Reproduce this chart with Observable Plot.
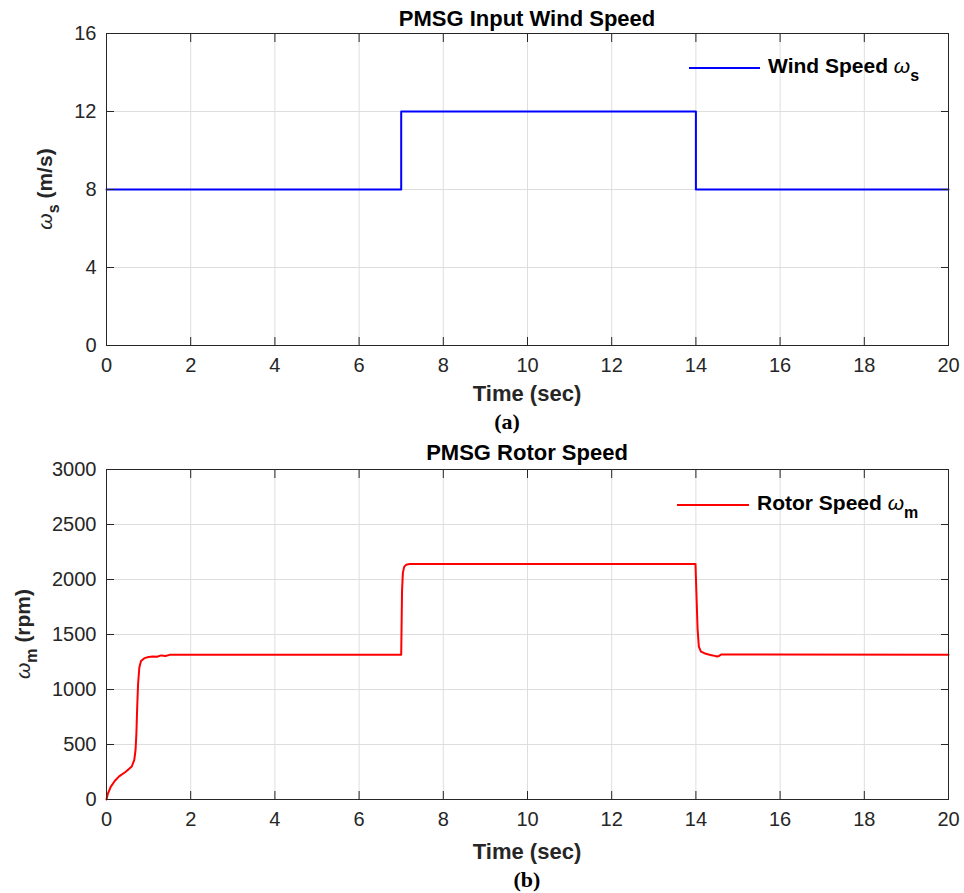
<!DOCTYPE html>
<html>
<head>
<meta charset="utf-8">
<script src="https://cdn.jsdelivr.net/npm/d3@7"></script>
<script src="https://cdn.jsdelivr.net/npm/@observablehq/plot@0.6"></script>
<style>
  html, body { margin: 0; padding: 0; background: #fff; }
  #chart { width: 964px; height: 893px; }
  #chart svg { display: block; }
</style>
</head>
<body>
<div id="chart"></div>
<script>
// ---- data ----
const xTicks = [0, 2, 4, 6, 8, 10, 12, 14, 16, 18, 20];
const windTicks = [0, 4, 8, 12, 16];
const rotorTicks = [0, 500, 1000, 1500, 2000, 2500, 3000];

const windTime  = [0, 7, 7, 14, 14, 20];
const windSpeed = [8, 8, 12, 12, 8, 8];

const rotorTime  = [0, 0.03, 0.1, 0.2, 0.3, 0.45, 0.6, 0.66, 0.69, 0.71, 0.73, 0.75, 0.78, 0.82, 0.9, 1.0, 1.1, 1.2, 1.3, 1.4, 1.5,
                    7.0, 7.02, 7.04, 7.07, 7.12, 7.2, 13.99, 14.01, 14.04, 14.07, 14.12, 14.2, 14.3, 14.4, 14.5, 14.55, 14.6, 20];
const rotorSpeed = [0, 50, 115, 170, 210, 250, 300, 360, 450, 600, 850, 1050, 1200, 1260, 1285, 1295, 1300, 1298, 1310, 1305, 1315,
                    1315, 1900, 2060, 2115, 2135, 2140, 2140, 1900, 1550, 1390, 1345, 1330, 1318, 1310, 1300, 1305, 1318, 1315];

const windData = windTime.map((t, i) => ({t, v: windSpeed[i]}));
const rotorData = rotorTime.map((t, i) => ({t, v: rotorSpeed[i]}));

const SANS = "'Liberation Sans', Arial, Helvetica, sans-serif";
const SERIF = "'Liberation Serif', 'Times New Roman', serif";

function panel({height, marginTop, marginBottom, yDomain, yTicks, data, color}) {
  return Plot.plot({
    width: 964, height, marginTop, marginBottom, marginLeft: 106, marginRight: 16,
    style: {fontFamily: SANS, fontSize: "20px", color: "#262626", background: "white", overflow: "visible"},
    x: {domain: [0, 20], ticks: xTicks, label: null},
    y: {domain: yDomain, ticks: yTicks, label: null},
    marks: [
      Plot.gridX(xTicks, {stroke: "#dedede", strokeOpacity: 1}),
      Plot.gridY(yTicks, {stroke: "#dedede", strokeOpacity: 1}),
      Plot.line(data, {x: "t", y: "v", stroke: color, strokeWidth: 2}),
      Plot.frame({stroke: "#262626"}),
      Plot.axisX(xTicks, {anchor: "bottom", tickSize: -8, tickPadding: 20, tickFormat: d => String(d), label: null}),
      Plot.axisX(xTicks, {anchor: "top", tickSize: -8, tickFormat: () => "", label: null}),
      Plot.axisY(yTicks, {anchor: "left", tickSize: -8, tickPadding: 18, tickFormat: d => String(d), label: null}),
      Plot.axisY(yTicks, {anchor: "right", tickSize: -8, tickFormat: () => "", label: null})
    ]
  });
}

function addText(svg, {x, y, text, size, weight = "bold", family = SANS, fill = "#000", anchor = "middle"}) {
  return svg.append("text").attr("x", x).attr("y", y).attr("text-anchor", anchor)
    .attr("font-family", family).attr("font-size", size).attr("font-weight", weight)
    .attr("fill", fill).text(text);
}

function yLabel(svg, {x, y, sub, unit}) {
  const t = svg.append("text").attr("transform", `translate(${x},${y}) rotate(-90)`)
    .attr("text-anchor", "middle").attr("font-family", SANS).attr("font-size", 21)
    .attr("font-weight", "bold").attr("fill", "#262626");
  t.append("tspan").attr("font-style", "italic").attr("font-weight", "normal").text("ω");
  t.append("tspan").attr("font-size", 16).attr("dy", 7).text(sub);
  t.append("tspan").attr("dy", -7).text(" " + unit);
}

function legend(svg, {x1, x2, y, tx, ty, color, label, sub}) {
  svg.append("line").attr("x1", x1).attr("x2", x2).attr("y1", y).attr("y2", y)
    .attr("stroke", color).attr("stroke-width", 2);
  const t = svg.append("text").attr("x", tx).attr("y", ty).attr("text-anchor", "start")
    .attr("font-family", SANS)
    .attr("font-size", 21).attr("font-weight", "bold").attr("fill", "#000");
  t.append("tspan").text(label + " ");
  t.append("tspan").attr("font-style", "italic").attr("font-weight", "normal").text("ω");
  t.append("tspan").attr("font-size", 16).attr("dy", 8).text(sub);
}

const root = document.getElementById("chart");

// ---- panel (a) ----
const topPanel = panel({height: 437, marginTop: 33, marginBottom: 92, yDomain: [0, 16], yTicks: windTicks, data: windData, color: "#0000ff"});
root.appendChild(topPanel);
const s1 = d3.select(topPanel);
addText(s1, {x: 527, y: 26, text: "PMSG Input Wind Speed", size: 22});
addText(s1, {x: 527, y: 401, text: "Time (sec)", size: 22, fill: "#262626"});
addText(s1, {x: 507, y: 429, text: "(a)", size: 22, family: SERIF});
yLabel(s1, {x: 52, y: 189, sub: "s", unit: "(m/s)"});
legend(s1, {x1: 689, x2: 760, y: 68, tx: 768, ty: 73, color: "#0000ff", label: "Wind Speed", sub: "s"});

// ---- panel (b) ----
const botPanel = panel({height: 456, marginTop: 32, marginBottom: 94, yDomain: [0, 3000], yTicks: rotorTicks, data: rotorData, color: "#ff0000"});
root.appendChild(botPanel);
const s2 = d3.select(botPanel);
addText(s2, {x: 527, y: 460 - 437, text: "PMSG Rotor Speed", size: 22});
addText(s2, {x: 527, y: 859 - 437, text: "Time (sec)", size: 22, fill: "#262626"});
addText(s2, {x: 527, y: 887 - 437, text: "(b)", size: 22, family: SERIF});
yLabel(s2, {x: 30, y: 634 - 437, sub: "m", unit: "(rpm)"});
legend(s2, {x1: 677, x2: 749, y: 505 - 437, tx: 757, ty: 510 - 437, color: "#ff0000", label: "Rotor Speed", sub: "m"});
</script>
</body>
</html>
